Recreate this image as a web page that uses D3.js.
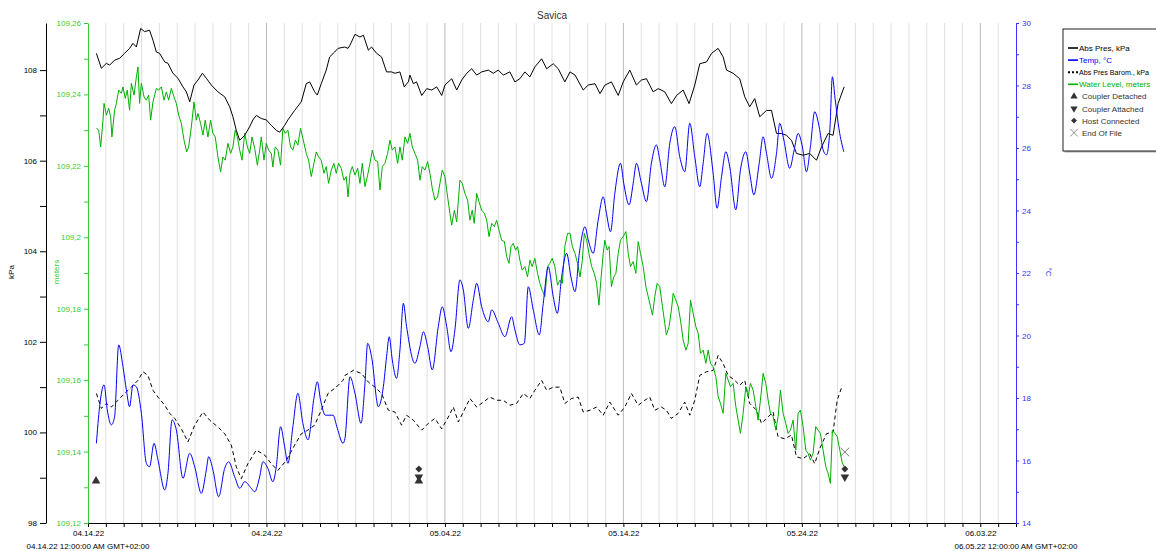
<!DOCTYPE html>
<html>
<head>
<meta charset="utf-8">
<script src="https://cdn.jsdelivr.net/npm/d3@7"></script>
<style>
  body { margin: 0; background: #fff; }
  text { font-family: Arial, "Liberation Sans", sans-serif; }
</style>
</head>
<body>
<svg id="chart" width="1156" height="551"></svg>
<script>
// chart values
const TITLE = "Savica";
const START_DATE = "04.14.22";
const END_DATE = "06.05.22";
const dateTicks = ["04.14.22", "04.24.22", "05.04.22", "05.14.22", "05.24.22", "06.03.22"];
const startLabel = "04.14.22 12:00:00 AM GMT+02:00";
const endLabel = "06.05.22 12:00:00 AM GMT+02:00";

const kpaDomain = [98, 109.04];
const meterDomain = [109.12, 109.26];
const tempDomain = [14, 30];

// [days since start, value]
const absPres = [[0.47,108.37],[0.75,108.04],[1.03,108.15],[1.21,108.11],[1.49,108.22],[1.77,108.26],[2.05,108.37],[2.33,108.48],[2.52,108.59],[2.71,108.51],[2.95,108.92],[3.17,108.85],[3.45,108.88],[3.64,108.66],[3.83,108.40],[4.01,108.37],[4.30,108.18],[4.48,108.15],[4.76,107.93],[5.04,107.82],[5.32,107.63],[5.51,107.52],[5.70,107.30],[5.94,107.67],[6.16,107.78],[6.41,107.93],[6.63,107.82],[6.91,107.67],[7.28,107.52],[7.66,107.41],[7.94,107.19],[8.12,106.97],[8.31,106.67],[8.50,106.45],[8.78,106.56],[9.06,106.75],[9.24,106.90],[9.43,107.00],[9.71,106.93],[9.99,106.90],[10.27,106.78],[10.55,106.67],[10.74,106.63],[11.02,106.78],[11.20,106.90],[11.58,107.11],[11.95,107.30],[12.23,107.70],[12.42,107.74],[12.70,107.52],[12.85,107.45],[13.07,107.70],[13.35,108.00],[13.54,108.29],[13.82,108.40],[14.01,108.48],[14.38,108.51],[14.57,108.48],[14.68,108.55],[14.96,108.79],[15.24,108.73],[15.43,108.77],[15.71,108.44],[15.89,108.51],[16.17,108.37],[16.45,108.29],[16.73,107.96],[17.01,107.96],[17.20,107.93],[17.48,107.96],[17.72,107.63],[17.95,107.74],[18.04,107.89],[18.23,107.70],[18.41,107.74],[18.70,107.44],[18.98,107.59],[19.26,107.56],[19.54,107.63],[19.82,107.44],[20.00,107.67],[20.38,107.81],[20.66,107.56],[20.94,107.78],[21.22,107.93],[21.50,108.03],[21.78,107.89],[22.06,107.96],[22.43,108.00],[22.71,107.93],[22.99,108.00],[23.27,107.89],[23.64,107.96],[23.92,107.74],[24.20,107.81],[24.48,107.96],[24.76,107.85],[25.04,108.07],[25.42,108.25],[25.70,108.03],[26.07,108.14],[26.35,108.03],[26.72,107.74],[27.01,107.96],[27.29,107.89],[27.75,107.56],[28.03,107.67],[28.41,107.70],[28.69,107.48],[28.97,107.67],[29.33,107.74],[29.71,107.44],[29.99,107.74],[30.36,108.00],[30.73,107.67],[31.01,107.78],[31.29,107.81],[31.67,107.52],[31.95,107.59],[32.32,107.52],[32.69,107.26],[32.98,107.44],[33.35,107.56],[33.68,107.26],[34.00,107.67],[34.28,108.14],[34.66,108.18],[34.94,108.37],[35.31,108.48],[35.59,108.29],[35.78,108.00],[36.15,107.93],[36.52,107.81],[36.80,107.41],[37.08,107.19],[37.36,107.37],[37.64,106.97],[38.02,107.11],[38.30,107.11],[38.58,106.60],[38.86,106.60],[39.14,106.56],[39.42,106.45],[39.70,106.16],[40.07,106.12],[40.44,106.16],[40.82,106.01],[41.10,106.30],[41.47,106.60],[41.75,106.56],[42.03,107.26],[42.37,107.63]];

const baroPres = [[0.47,100.86],[0.75,100.53],[1.03,100.64],[1.31,100.56],[1.68,100.71],[2.05,100.86],[2.43,101.00],[2.80,101.15],[3.08,101.34],[3.36,101.26],[3.64,100.93],[3.92,100.78],[4.30,100.60],[4.58,100.42],[4.86,100.31],[5.23,100.08],[5.60,99.79],[5.98,100.16],[6.44,100.45],[6.82,100.27],[7.28,100.12],[7.66,99.97],[8.03,99.72],[8.31,99.24],[8.59,98.98],[8.96,99.31],[9.43,99.61],[9.90,99.50],[10.27,99.31],[10.64,99.16],[11.11,99.38],[11.58,99.72],[11.95,99.97],[12.32,100.05],[12.70,100.16],[13.07,100.49],[13.45,100.86],[13.91,101.00],[14.29,101.15],[14.40,101.26],[14.87,101.37],[15.33,101.30],[15.71,101.11],[16.08,101.00],[16.45,100.86],[16.83,100.49],[17.20,100.45],[17.57,100.16],[17.85,100.38],[18.23,100.27],[18.70,100.05],[19.07,100.20],[19.44,100.31],[19.82,100.08],[20.19,100.34],[20.47,100.56],[20.75,100.23],[21.03,100.45],[21.40,100.75],[21.78,100.56],[22.15,100.67],[22.52,100.78],[22.90,100.71],[23.27,100.71],[23.64,100.60],[24.02,100.64],[24.39,100.86],[24.76,100.75],[25.04,100.93],[25.42,101.15],[25.70,100.93],[26.07,101.00],[26.44,101.00],[26.72,100.64],[27.10,100.75],[27.47,100.78],[27.75,100.45],[28.13,100.49],[28.50,100.56],[28.87,100.38],[29.24,100.67],[29.71,100.38],[30.08,100.56],[30.45,100.86],[30.83,100.60],[31.20,100.71],[31.48,100.78],[31.76,100.49],[32.13,100.56],[32.41,100.49],[32.69,100.31],[33.07,100.42],[33.44,100.67],[33.72,100.38],[34.00,100.71],[34.28,101.26],[34.66,101.34],[35.03,101.37],[35.31,101.70],[35.59,101.52],[35.87,101.26],[36.24,101.15],[36.52,101.04],[36.80,101.15],[37.08,100.64],[37.46,100.49],[37.74,100.20],[38.02,100.31],[38.39,100.45],[38.67,99.90],[39.04,99.86],[39.42,99.94],[39.70,99.46],[40.07,99.42],[40.44,99.53],[40.72,99.31],[41.00,99.64],[41.38,99.97],[41.75,100.01],[41.98,100.71],[42.27,101.04]];

const temperature = [[0.47,16.55],[0.65,17.72],[0.90,18.42],[1.08,17.62],[1.31,17.14],[1.49,17.40],[1.72,19.70],[1.96,19.00],[2.15,18.26],[2.33,17.72],[2.52,18.42],[2.71,18.36],[2.99,17.51],[3.27,15.91],[3.45,15.80],[3.70,16.55],[3.92,16.02],[4.30,15.06],[4.48,15.59],[4.71,17.30],[4.95,16.98],[5.32,15.43],[5.70,16.23],[5.98,15.80],[6.35,14.95],[6.63,15.70],[6.76,16.12],[7.00,15.70],[7.32,14.84],[7.66,15.75],[7.88,15.96],[8.22,15.48],[8.50,15.11],[8.78,15.32],[9.15,15.11],[9.34,15.00],[9.62,15.48],[9.80,15.96],[10.08,15.75],[10.36,15.32],[10.55,15.80],[10.79,17.08],[11.02,16.44],[11.20,15.91],[11.48,17.08],[11.76,18.15],[12.04,17.19],[12.33,16.66],[12.66,17.99],[12.85,18.52],[13.03,17.94],[13.30,17.45],[13.73,17.45],[13.97,17.03],[14.29,16.55],[14.40,16.71],[14.68,18.68],[14.96,18.15],[15.30,17.19],[15.52,18.47],[15.67,19.75],[15.89,19.32],[16.27,17.72],[16.55,18.36],[16.73,19.32],[16.88,19.96],[17.05,19.22],[17.29,18.63],[17.48,19.54],[17.67,21.03],[17.85,20.29],[18.32,19.11],[18.60,19.65],[18.79,20.12],[19.03,19.65],[19.29,18.90],[19.63,20.29],[19.85,20.92],[20.10,20.29],[20.34,19.48],[20.56,20.18],[20.84,21.78],[21.03,21.46],[21.31,20.23],[21.59,21.14],[21.78,21.67],[22.06,20.92],[22.43,20.44],[22.62,20.82],[22.99,20.39],[23.36,19.96],[23.74,20.60],[23.92,20.18],[24.20,19.70],[24.45,19.75],[24.67,21.56],[24.95,20.82],[25.29,20.02],[25.51,21.03],[25.79,22.20],[26.07,21.24],[26.30,20.71],[26.54,21.88],[26.82,22.63],[27.06,21.88],[27.29,21.40],[27.53,22.63],[27.85,23.48],[28.03,23.06],[28.31,22.63],[28.59,23.70],[28.87,24.44],[29.05,23.91],[29.28,23.32],[29.52,24.55],[29.84,25.51],[30.02,24.87],[30.32,24.18],[30.55,24.87],[30.73,25.51],[31.01,24.87],[31.29,24.28],[31.57,25.51],[31.85,26.10],[32.04,25.62],[32.32,24.76],[32.60,26.15],[32.88,26.68],[33.16,25.72],[33.44,25.24],[33.72,26.79],[34.00,25.72],[34.28,24.76],[34.47,25.51],[34.69,26.47],[35.03,25.19],[35.25,24.07],[35.50,25.08],[35.74,25.88],[35.96,25.40],[36.30,24.02],[36.56,25.30],[36.86,25.88],[37.08,25.19],[37.31,24.50],[37.61,25.51],[37.83,26.36],[38.02,25.83],[38.30,25.03],[38.58,25.83],[38.76,26.79],[38.99,26.26],[39.32,25.35],[39.57,25.94],[39.79,26.47],[40.03,26.04],[40.26,25.24],[40.48,26.04],[40.72,27.16],[40.97,26.68],[41.19,25.94],[41.38,25.78],[41.57,26.58],[41.71,28.28],[41.86,27.59],[42.09,26.58],[42.35,25.88]];

const waterLevel = [[0.47,109.2305],[0.60,109.2300],[0.71,109.2253],[0.84,109.2328],[0.90,109.2375],[1.03,109.2342],[1.16,109.2361],[1.27,109.2337],[1.34,109.2281],[1.49,109.2356],[1.59,109.2375],[1.72,109.2412],[1.87,109.2403],[1.96,109.2421],[2.09,109.2389],[2.20,109.2412],[2.33,109.2356],[2.43,109.2431],[2.58,109.2398],[2.71,109.2449],[2.80,109.2477],[2.89,109.2375],[2.99,109.2431],[3.14,109.2393],[3.27,109.2384],[3.40,109.2398],[3.51,109.2328],[3.64,109.2379],[3.83,109.2417],[3.96,109.2412],[4.11,109.2421],[4.26,109.2384],[4.39,109.2407],[4.52,109.2384],[4.67,109.2417],[4.82,109.2393],[4.95,109.2375],[5.08,109.2342],[5.23,109.2319],[5.38,109.2272],[5.53,109.2239],[5.64,109.2253],[5.79,109.2309],[5.94,109.2379],[6.07,109.2328],[6.16,109.2347],[6.31,109.2319],[6.44,109.2286],[6.57,109.2328],[6.72,109.2281],[6.87,109.2328],[7.00,109.2291],[7.13,109.2281],[7.28,109.2225],[7.43,109.2183],[7.56,109.2225],[7.69,109.2216],[7.84,109.2263],[7.99,109.2235],[8.12,109.2253],[8.25,109.2300],[8.37,109.2281],[8.50,109.2244],[8.63,109.2216],[8.78,109.2291],[8.93,109.2253],[9.06,109.2235],[9.19,109.2281],[9.34,109.2249],[9.49,109.2202],[9.62,109.2244],[9.71,109.2281],[9.86,109.2216],[9.99,109.2263],[10.12,109.2244],[10.27,109.2235],[10.36,109.2197],[10.49,109.2253],[10.64,109.2244],[10.79,109.2202],[10.92,109.2305],[11.05,109.2291],[11.20,109.2300],[11.35,109.2253],[11.48,109.2244],[11.62,109.2272],[11.76,109.2258],[11.91,109.2305],[12.04,109.2277],[12.23,109.2235],[12.36,109.2216],[12.51,109.2170],[12.66,109.2207],[12.79,109.2239],[12.92,109.2225],[13.07,109.2216],[13.22,109.2179],[13.35,109.2198],[13.48,109.2151],[13.63,109.2188],[13.78,109.2207],[13.91,109.2179],[14.04,109.2207],[14.19,109.2193],[14.34,109.2160],[14.47,109.2170],[14.57,109.2113],[14.68,109.2179],[14.81,109.2198],[14.96,109.2174],[15.11,109.2193],[15.24,109.2151],[15.37,109.2207],[15.52,109.2142],[15.67,109.2174],[15.80,109.2207],[15.93,109.2244],[16.08,109.2216],[16.23,109.2212],[16.36,109.2132],[16.49,109.2198],[16.64,109.2207],[16.79,109.2235],[16.92,109.2272],[17.05,109.2244],[17.20,109.2253],[17.35,109.2207],[17.48,109.2253],[17.61,109.2216],[17.76,109.2281],[17.91,109.2263],[18.04,109.2291],[18.17,109.2253],[18.32,109.2235],[18.47,109.2216],[18.60,109.2160],[18.73,109.2198],[18.88,109.2188],[19.03,109.2212],[19.16,109.2179],[19.29,109.2137],[19.44,109.2104],[19.59,109.2113],[19.72,109.2151],[19.85,109.2188],[20.00,109.2170],[20.15,109.2113],[20.28,109.2067],[20.38,109.2034],[20.53,109.2076],[20.66,109.2043],[20.84,109.2160],[20.97,109.2151],[21.12,109.2123],[21.27,109.2104],[21.40,109.2048],[21.53,109.2076],[21.64,109.2039],[21.78,109.2123],[21.91,109.2099],[22.06,109.2076],[22.21,109.2067],[22.34,109.2048],[22.47,109.2002],[22.62,109.2039],[22.77,109.2030],[22.90,109.2048],[23.03,109.2020],[23.18,109.1992],[23.33,109.1988],[23.46,109.1946],[23.59,109.1927],[23.70,109.1974],[23.83,109.1983],[23.96,109.1964],[24.07,109.1974],[24.20,109.1936],[24.33,109.1908],[24.48,109.1918],[24.63,109.1889],[24.76,109.1936],[24.89,109.1918],[25.04,109.1941],[25.19,109.1899],[25.32,109.1871],[25.45,109.1852],[25.60,109.1834],[25.75,109.1918],[25.88,109.1927],[26.01,109.1941],[26.16,109.1918],[26.31,109.1866],[26.44,109.1880],[26.58,109.1871],[26.72,109.1974],[26.87,109.2011],[27.01,109.2011],[27.14,109.1974],[27.29,109.1955],[27.43,109.1927],[27.57,109.1889],[27.70,109.1936],[27.81,109.2011],[27.94,109.1992],[28.07,109.1955],[28.22,109.1918],[28.37,109.1899],[28.50,109.1871],[28.63,109.1810],[28.74,109.1880],[28.87,109.1955],[28.96,109.1992],[29.09,109.1964],[29.20,109.1974],[29.33,109.1862],[29.46,109.1889],[29.58,109.1899],[29.71,109.1955],[29.84,109.1992],[29.99,109.2002],[30.14,109.2016],[30.27,109.1955],[30.40,109.1918],[30.55,109.1932],[30.70,109.1899],[30.83,109.1988],[30.96,109.1955],[31.11,109.1918],[31.26,109.1862],[31.39,109.1834],[31.52,109.1806],[31.63,109.1782],[31.76,109.1834],[31.89,109.1871],[32.04,109.1862],[32.19,109.1806],[32.32,109.1759],[32.41,109.1726],[32.56,109.1750],[32.69,109.1796],[32.79,109.1843],[32.94,109.1824],[33.07,109.1806],[33.20,109.1768],[33.35,109.1712],[33.50,109.1684],[33.63,109.1703],[33.76,109.1824],[33.91,109.1787],[34.06,109.1750],[34.19,109.1731],[34.32,109.1675],[34.47,109.1684],[34.62,109.1647],[34.75,109.1684],[34.88,109.1647],[35.03,109.1638],[35.18,109.1610],[35.31,109.1554],[35.44,109.1535],[35.59,109.1507],[35.74,109.1619],[35.87,109.1600],[36.00,109.1582],[36.15,109.1591],[36.30,109.1526],[36.43,109.1488],[36.56,109.1451],[36.71,109.1507],[36.86,109.1582],[36.99,109.1554],[37.12,109.1591],[37.27,109.1572],[37.42,109.1526],[37.55,109.1488],[37.68,109.1544],[37.83,109.1619],[37.98,109.1591],[38.11,109.1544],[38.24,109.1507],[38.39,109.1498],[38.54,109.1460],[38.67,109.1498],[38.80,109.1572],[38.95,109.1507],[39.10,109.1479],[39.23,109.1451],[39.36,109.1460],[39.51,109.1488],[39.66,109.1404],[39.79,109.1507],[39.92,109.1516],[40.07,109.1470],[40.22,109.1404],[40.35,109.1395],[40.48,109.1376],[40.63,109.1395],[40.78,109.1470],[40.91,109.1460],[41.04,109.1451],[41.19,109.1404],[41.34,109.1358],[41.47,109.1339],[41.60,109.1311],[41.71,109.1460],[41.85,109.1451],[41.98,109.1442],[42.13,109.1404],[42.27,109.1367],[42.37,109.1358]];

// logger events
const eventDays = [0.45, 18.54, 18.54, 18.54, 42.41, 42.41, 42.41];
const eventTypes = ["detached", "attached", "detached", "host", "eof", "host", "attached"];

const legendLabels = ["Abs Pres, kPa", "Temp, \u00b0C", "Abs Pres Barom., kPa", "Water Level, meters",
  "Coupler Detached", "Coupler Attached", "Host Connected", "End Of File"];

// layout
const PLOT = { left: 88, right: 1016, top: 23, bottom: 523 };
const KPA_AXIS_X = 46;
const BLUE = "#0000ff", BLUE_AX = "#3333ff", GREEN = "#00b000", GREEN_AX = "#33cc33", MARK = "#333";
const EVENT_Y = { eof: 452, host: 469, attached: 477, detached: 481 };

const svg = d3.select("#chart");
const parse = d3.utcParse("%m.%d.%y");
const fmt = d3.utcFormat("%m.%d.%y");
const t0 = parse(START_DATE);
const toDate = d => new Date(t0.getTime() + d * 864e5);

const x = d3.scaleUtc().domain([t0, parse(END_DATE)]).range([PLOT.left, PLOT.right]);
const yKpa = d3.scaleLinear().domain(kpaDomain).range([PLOT.bottom, PLOT.top]);
const yMeter = d3.scaleLinear().domain(meterDomain).range([PLOT.bottom, PLOT.top]);
const yTemp = d3.scaleLinear().domain(tempDomain).range([PLOT.bottom, PLOT.top]);

const allDays = d3.utcDay.range(t0, d3.utcDay.offset(parse(END_DATE), 1));
const labelled = new Set(dateTicks);

// vertical day grid
svg.append("g").selectAll("line")
  .data(allDays.slice(1, -1))
  .join("line")
  .attr("x1", d => x(d)).attr("x2", d => x(d))
  .attr("y1", PLOT.top).attr("y2", PLOT.bottom)
  .attr("stroke", d => labelled.has(fmt(d)) ? "#b8b8b8" : "#e0e0e0")
  .attr("stroke-width", 1);

// title
svg.append("text").attr("x", (PLOT.left + PLOT.right) / 2).attr("y", 19)
  .attr("text-anchor", "middle").attr("font-size", 10).attr("fill", "#333").text(TITLE);

function styleAxis(g, color) {
  g.selectAll("path, line").attr("stroke", color);
  g.selectAll("text").attr("fill", color).attr("font-size", 8)
    .attr("font-family", "Arial, 'Liberation Sans', sans-serif");
}

// x axis
const xAxis = svg.append("g").attr("transform", `translate(0,${PLOT.bottom})`)
  .call(d3.axisBottom(x).tickValues(allDays).tickSize(4).tickSizeOuter(0)
    .tickFormat(d => labelled.has(fmt(d)) ? fmt(d) : ""));
styleAxis(xAxis, "#000");
xAxis.selectAll("text").attr("dy", "0.72em").attr("y", 7);

svg.append("text").attr("x", PLOT.left).attr("y", 549).attr("text-anchor", "middle")
  .attr("font-size", 8).text(startLabel);
svg.append("text").attr("x", PLOT.right).attr("y", 549).attr("text-anchor", "middle")
  .attr("font-size", 8).text(endLabel);

// kPa axis
const kpaAxis = svg.append("g").attr("transform", `translate(${KPA_AXIS_X},0)`)
  .call(d3.axisLeft(yKpa).tickValues(d3.range(98, 109, 1)).tickSize(6).tickSizeOuter(0)
    .tickFormat(d => d % 2 === 0 ? d : ""));
styleAxis(kpaAxis, "#000");
svg.append("text").attr("transform", "translate(14,272) rotate(-90)")
  .attr("text-anchor", "middle").attr("font-size", 8).text("kPa");

// meters axis
const meterTicks = d3.range(0, 15).map(i => +(meterDomain[0] + i * 0.01).toFixed(2));
const meterAxis = svg.append("g").attr("transform", `translate(${PLOT.left},0)`)
  .call(d3.axisLeft(yMeter).tickValues(meterTicks).tickSize(4).tickSizeOuter(0)
    .tickFormat((d, i) => i % 2 === 0 ? String(d).replace(".", ",") : ""));
styleAxis(meterAxis, GREEN_AX);
svg.append("text").attr("transform", "translate(59,272) rotate(-90)")
  .attr("text-anchor", "middle").attr("font-size", 8).attr("fill", GREEN_AX).text("meters");

// temperature axis
const tempAxis = svg.append("g").attr("transform", `translate(${PLOT.right},0)`)
  .call(d3.axisRight(yTemp).tickValues(d3.range(14, 31, 1)).tickSize(3).tickSizeOuter(0)
    .tickFormat(d => d % 2 === 0 ? d : ""));
styleAxis(tempAxis, BLUE_AX);
svg.append("text").attr("transform", "translate(1046,272) rotate(90)")
  .attr("text-anchor", "middle").attr("font-size", 8).attr("fill", BLUE_AX).text("\u00b0C");

// series
const lineOf = (y, curve) => d3.line().x(d => x(toDate(d[0]))).y(d => y(d[1])).curve(curve || d3.curveLinear);

svg.append("path").datum(baroPres).attr("d", lineOf(yKpa))
  .attr("fill", "none").attr("stroke", "#000").attr("stroke-width", 1).attr("stroke-dasharray", "4,3");
svg.append("path").datum(waterLevel).attr("d", lineOf(yMeter))
  .attr("fill", "none").attr("stroke", GREEN).attr("stroke-width", 1);
svg.append("path").datum(absPres).attr("d", lineOf(yKpa))
  .attr("fill", "none").attr("stroke", "#000").attr("stroke-width", 1);
svg.append("path").datum(temperature).attr("d", lineOf(yTemp, d3.curveMonotoneX))
  .attr("fill", "none").attr("stroke", BLUE).attr("stroke-width", 1);

// event markers
function marker(g, type) {
  if (type === "eof") {
    g.append("path").attr("d", d3.symbol(d3.symbolX, 50)()).attr("fill", "none").attr("stroke", "#777");
  } else if (type === "host") {
    g.append("path").attr("d", d3.symbol(d3.symbolSquare, 24)()).attr("fill", MARK)
      .attr("transform", "rotate(45)");
  } else {
    g.append("path").attr("d", d3.symbol(d3.symbolTriangle, 32)()).attr("fill", MARK)
      .attr("transform", type === "attached" ? "rotate(180)" : null);
  }
}
eventDays.forEach((d, i) => {
  const g = svg.append("g")
    .attr("transform", `translate(${x(toDate(d))},${EVENT_Y[eventTypes[i]]})`);
  marker(g, eventTypes[i]);
});

// legend
const lg = svg.append("g").attr("transform", "translate(1063,29)");
lg.append("rect").attr("x", 1.5).attr("y", 1.5).attr("width", 110).attr("height", 122).attr("fill", "#aaa");
lg.append("rect").attr("x", 0).attr("y", 0).attr("width", 110).attr("height", 122)
  .attr("fill", "#fff").attr("stroke", "#222").attr("stroke-width", 1);
const legendColors = ["#000", BLUE, "#000", GREEN, MARK, MARK, MARK, MARK];
const markerTypes = [null, null, null, null, "detached", "attached", "host", "eof"];
legendLabels.forEach((label, i) => {
  const yy = 19 + i * 12.1;
  if (i < 4) {
    lg.append("line").attr("x1", 5).attr("x2", 15).attr("y1", yy).attr("y2", yy)
      .attr("stroke", legendColors[i]).attr("stroke-width", i === 2 ? 2 : 1.6)
      .attr("stroke-dasharray", i === 2 ? "2,2" : null);
  } else {
    const g = lg.append("g").attr("transform", `translate(11,${yy}) scale(0.85)`);
    marker(g, markerTypes[i]);
  }
  const tx = lg.append("text").attr("x", i < 4 ? 16 : 19).attr("y", yy + 3)
    .attr("font-size", 8).attr("fill", i < 4 ? legendColors[i] : "#333").text(label);
  // the long barometric label is squeezed so it stays inside the window
  if (i === 2) tx.attr("font-size", 7.6).attr("textLength", 70).attr("lengthAdjust", "spacingAndGlyphs");
});
</script>
</body>
</html>
